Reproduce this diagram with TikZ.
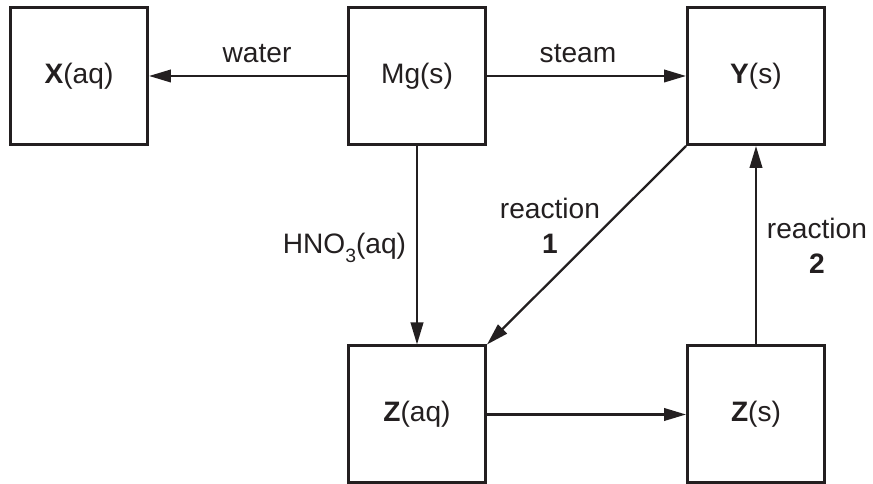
\documentclass[tikz,border=0pt]{standalone}
\usepackage{fontspec}
\setmainfont{Liberation Sans}
\usetikzlibrary{arrows.meta}
\definecolor{ink}{RGB}{35,31,32}
\newcommand{\lowsub}[1]{\raisebox{-0.55ex}{\fontsize{11}{11}\selectfont #1}}
\begin{document}
\begin{tikzpicture}[
    every node/.style={text=ink, font=\fontsize{16}{20}\selectfont},
    species/.style={rectangle, draw=ink, line width=1.7pt, minimum size=2.74cm, inner sep=0pt},
    rxn/.style={draw=ink, line width=1.3pt, -{Triangle[length=4.4mm, width=2.5mm]}}
]
    \useasboundingbox (0,0) rectangle (17.46,9.68);

    \node[species] (xaq) at (1.58,8.16) {\textbf{X}(aq)};
    \node[species] (mg) at (8.34,8.16) {Mg(s)};
    \node[species] (ys) at (15.12,8.16) {\textbf{Y}(s)};
    \node[species] (zaq) at (8.34,1.39) {\textbf{Z}(aq)};
    \node[species] (zs) at (15.12,1.39) {\textbf{Z}(s)};

    \draw[rxn] (mg) -- (xaq);
    \node (water) at (5.14,8.6) {water};

    \draw[rxn] (mg) -- (ys);
    \node (steam) at (11.56,8.6) {steam};

    \draw[rxn] (mg) -- (zaq);
    \node (hno) at (6.89,4.72) {HNO\lowsub{3}(aq)};

    \draw[rxn] (ys.south west) -- (zaq.north east);
    \node[align=center] (rone) at (11.0,5.16) {reaction\\\textbf{1}};

    \draw[rxn] (zaq) -- (zs);

    \draw[rxn] (zs) -- (ys);
    \node[align=center] (rtwo) at (16.34,4.77) {reaction\\\textbf{2}};
\end{tikzpicture}
\end{document}
